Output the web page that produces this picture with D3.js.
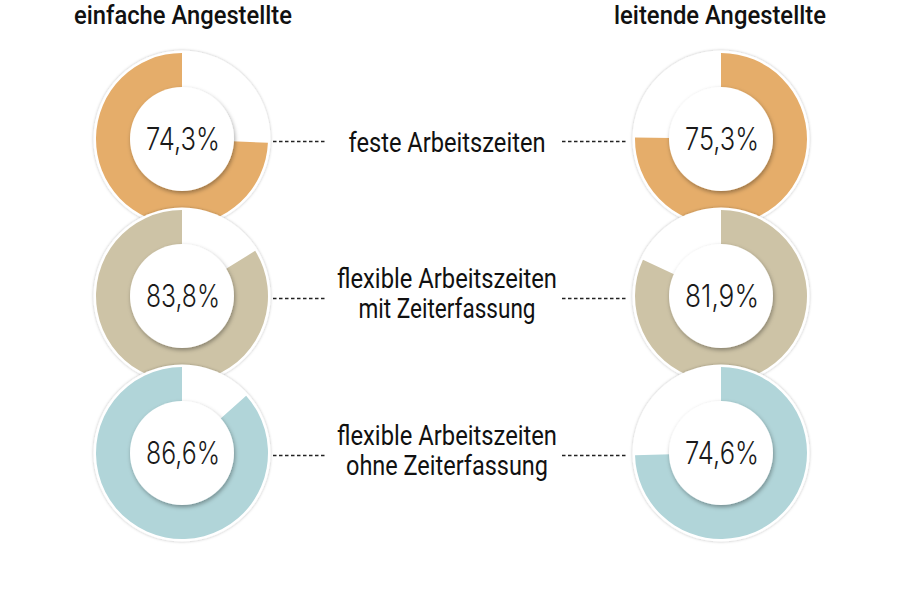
<!DOCTYPE html>
<html>
<head>
<meta charset="utf-8">
<script src="https://cdn.jsdelivr.net/npm/d3@7"></script>
<style>
  html, body { margin: 0; padding: 0; background: #fff; }
  svg { display: block; }
</style>
</head>
<body>
<svg id="chart" width="900" height="614"></svg>
<script>
// ---- data ----
const groups = ["einfache Angestellte", "leitende Angestellte"];
const categories = ["feste Arbeitszeiten", "flexible Arbeitszeiten mit Zeiterfassung", "flexible Arbeitszeiten ohne Zeiterfassung"];
const categoryLines = [["feste Arbeitszeiten"], ["flexible Arbeitszeiten", "mit Zeiterfassung"], ["flexible Arbeitszeiten", "ohne Zeiterfassung"]];
const einfache = [74.3, 83.8, 86.6];
const leitende = [75.3, 81.9, 74.6];
const valueLabels = [["74,3%", "83,8%", "86,6%"], ["75,3%", "81,9%", "74,6%"]];
const colors = ["#E5AD6A", "#CDC3A6", "#B1D5D9"];

const svg = d3.select("#chart");
const defs = svg.append("defs");
const f1 = defs.append("filter").attr("id", "outerShadow").attr("x", "-20%").attr("y", "-20%").attr("width", "140%").attr("height", "140%");
f1.append("feDropShadow").attr("dx", 0).attr("dy", 0).attr("stdDeviation", 1.6).attr("flood-color", "#000").attr("flood-opacity", 0.28);
const f2 = defs.append("filter").attr("id", "innerShadow").attr("x", "-30%").attr("y", "-30%").attr("width", "160%").attr("height", "160%");
f2.append("feDropShadow").attr("dx", 1).attr("dy", 2).attr("stdDeviation", 2.2).attr("flood-color", "#000").attr("flood-opacity", 0.35);

const x = d3.scalePoint().domain(groups).range([182, 721]);
const y = d3.scalePoint().domain(categories).range([139, 453]);
const angle = d3.scaleLinear().domain([0, 100]).range([0, 2 * Math.PI]);

const R = 86, rIn = 52, rTrack = 88.5;
const arc = d3.arc().innerRadius(rIn - 2).outerRadius(R);

// titles
groups.forEach((g, gi) => {
  svg.append("text")
    .attr("x", x(g) + (gi === 0 ? 1 : -1)).attr("y", 24)
    .attr("text-anchor", "middle")
    .attr("font-family", "Roboto, 'Open Sans', sans-serif")
    .attr("font-weight", 500)
    .attr("font-size", 25)
    .attr("fill", "#111")
    .attr("textLength", gi === 0 ? 218 : 212)
    .attr("lengthAdjust", "spacingAndGlyphs")
    .text(g);
});

// dotted connector lines
categories.forEach((c, i) => {
  const cy = y(c) + 2.5;
  [[273, 327], [562, 627]].forEach(([a, b]) => {
    svg.append("line")
      .attr("x1", a).attr("x2", b).attr("y1", cy).attr("y2", cy)
      .attr("stroke", "#222").attr("stroke-width", 1.6)
      .attr("stroke-dasharray", "3.5,2.5");
  });
});

// donuts (drawn top to bottom so lower ones overlap upper ones)
const series = [einfache, leitende];
categories.forEach((c, i) => {
  groups.forEach((g, gi) => {
    const v = series[gi][i];
    const gEl = svg.append("g").attr("transform", `translate(${x(g)},${y(c)})`);
    gEl.append("circle").attr("r", rTrack).attr("fill", "#fff").attr("filter", "url(#outerShadow)");
    const a = angle(v);
    gEl.append("path")
      .attr("d", gi === 0 ? arc({ startAngle: -a, endAngle: 0 }) : arc({ startAngle: 0, endAngle: a }))
      .attr("fill", colors[i]);
    gEl.append("circle").attr("r", rIn).attr("fill", "#fff").attr("filter", "url(#innerShadow)");
    gEl.append("text")
      .attr("x", 1).attr("y", 11)
      .attr("text-anchor", "middle")
      .attr("font-family", "Inter, 'DejaVu Sans Mono', monospace")
      .attr("font-weight", 300)
      .attr("font-size", 31)
      .attr("fill", "#1a1a1a")
      .attr("textLength", 74)
      .attr("lengthAdjust", "spacingAndGlyphs")
      .text(valueLabels[gi][i]);
  });
});

// category labels
const labelWidths = {"feste Arbeitszeiten": 197, "flexible Arbeitszeiten": 220, "mit Zeiterfassung": 177, "ohne Zeiterfassung": 202};
categories.forEach((c, i) => {
  const lines = categoryLines[i];
  const cy = y(c);
  const baselines = lines.length === 1 ? [cy + 13] : [cy - 8, cy + 22];
  lines.forEach((ln, li) => {
    svg.append("text")
      .attr("x", 447).attr("y", baselines[li])
      .attr("text-anchor", "middle")
      .attr("font-family", "Roboto, 'Open Sans', sans-serif")
      .attr("font-size", 27)
      .attr("fill", "#111")
      .attr("textLength", labelWidths[ln])
      .attr("lengthAdjust", "spacingAndGlyphs")
      .text(ln);
  });
});
</script>
</body>
</html>
